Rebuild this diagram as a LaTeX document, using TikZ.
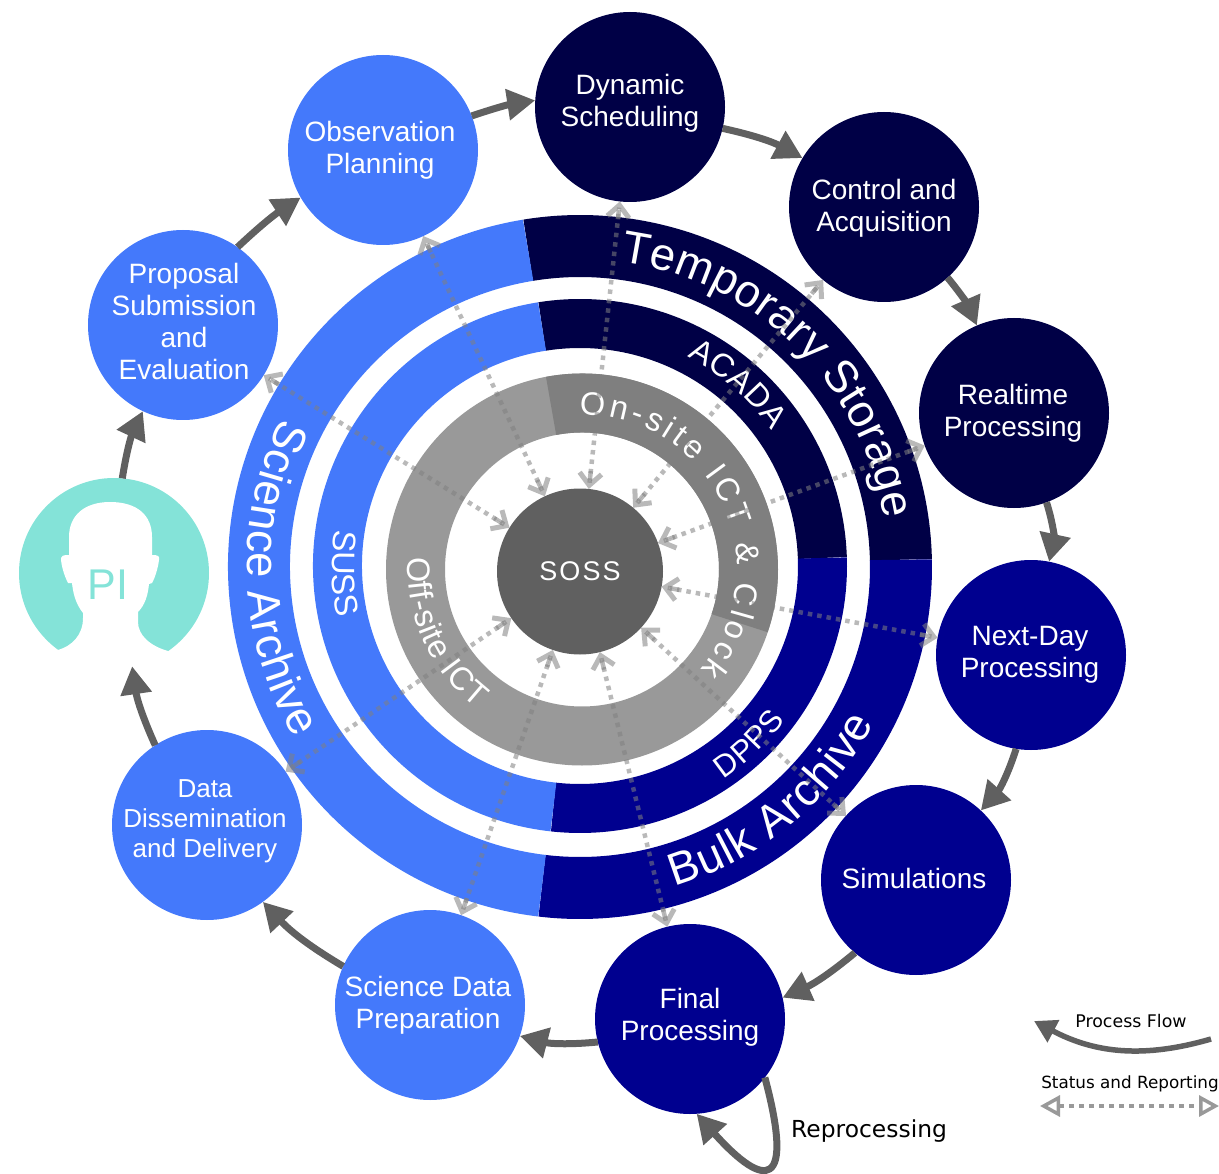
\documentclass[tikz,border=0pt]{standalone}
\usepackage{fontspec}
\setmainfont{Liberation Sans}
\newfontfamily\legendfont{DejaVu Sans}
\usetikzlibrary{arrows.meta,decorations.text}

\definecolor{sciblue}{HTML}{4479FB}
\definecolor{tempnavy}{HTML}{000046}
\definecolor{bulkblue}{HTML}{00008F}
\definecolor{sossgray}{HTML}{606060}
\definecolor{lightgray}{HTML}{999999}
\definecolor{midgray}{HTML}{7F7F7F}
\definecolor{statusgray}{HTML}{808080}
\definecolor{piteal}{HTML}{84E3D8}

\tikzset{
    station/.style = {circle, minimum size = 190pt, inner sep = 0pt, outer sep = 0pt},
    stationtext/.style = {text = white, align = center, inner sep = 0pt, font = \fontsize{28}{32}\selectfont},
    flow/.style = {draw = sossgray, line width = 7pt, -{Triangle[length = 28pt, width = 30pt]}},
    status/.style = {draw = statusgray, draw opacity = 0.55, line width = 4.5pt, dash pattern = on 4.5pt off 5pt,
        {Straight Barb[length = 12pt, width = 22pt, line width = 5pt] Rectangle[length = 14pt, width = 4.5pt, sep = -12pt]}-{Rectangle[length = 14pt, width = 4.5pt, sep = -12pt] Straight Barb[length = 12pt, width = 22pt, line width = 5pt]}},
    ringtext/.style = {decorate, decoration = {text along path, text color = white, text align = {fit to path}, text = {#1}}},
}
\newcommand{\bigring}{\fontsize{45.5}{46}\selectfont}
\newcommand{\smallring}{\fontsize{32.5}{33}\selectfont}

\begin{document}
\begin{tikzpicture}[x = 1pt, y = 1pt]
    \useasboundingbox (0, 0) rectangle (1219, -1174);

    % Outer ring: storage
    \draw [line width = 62pt, tempnavy] (580, -567) ++(99.3:321) arc [start angle = 99.3, end angle = 1.3, radius = 321];
    \draw [line width = 62pt, bulkblue] (580, -567) ++(1.3:321) arc [start angle = 1.3, end angle = -96.8, radius = 321];
    \draw [line width = 62pt, sciblue] (580, -567) ++(99.3:321) arc [start angle = 99.3, end angle = 263.2, radius = 321];

    % Middle ring: pipelines
    \draw [line width = 49pt, tempnavy] (580, -566) ++(99:242.5) arc [start angle = 99, end angle = 1.9, radius = 242.5];
    \draw [line width = 49pt, bulkblue] (580, -566) ++(1.9:242.5) arc [start angle = 1.9, end angle = -96.3, radius = 242.5];
    \draw [line width = 49pt, sciblue] (580, -566) ++(99:242.5) arc [start angle = 99, end angle = 263.7, radius = 242.5];

    % Inner ring: ICT
    \draw [line width = 59pt, lightgray] (582, -569.5) circle [radius = 166.5];
    \draw [line width = 59pt, midgray] (582, -569.5) ++(100.7:166.5) arc [start angle = 100.7, end angle = -18.8, radius = 166.5];

    % Ring names
    \path [ringtext = {|\bigring|Temporary Storage}] (580, -567) ++(82.5:308) arc [start angle = 82.5, end angle = 9, radius = 308];
    \path [ringtext = {|\bigring|Bulk Archive}] (580, -567) ++(-73.5:333) arc [start angle = -73.5, end angle = -28, radius = 333];
    \path [ringtext = {|\bigring|Science Archive}] (580, -567) ++(153.4:333) arc [start angle = 153.4, end angle = 211, radius = 333];
    \path [ringtext = {|\smallring|ACADA}] (580, -566) ++(62.8:235) arc [start angle = 62.8, end angle = 35.2, radius = 235];
    \path [ringtext = {|\fontsize{31}{32}\selectfont|DPPS}] (580, -566) ++(-56:257) arc [start angle = -56, end angle = -37, radius = 257];
    \path [ringtext = {|\smallring|SUSS}] (580, -566) ++(171.6:248) arc [start angle = 171.6, end angle = 192, radius = 248];
    \path [ringtext = {|\smallring|On-site ICT {\&} Clock}, decoration = {text align = {left}}] (582, -569.5) ++(91:155) arc [start angle = 91, end angle = -40, radius = 155];
    \path [ringtext = {|\smallring|Off-site ICT}] (582, -569.5) ++(175.9:174) arc [start angle = 175.9, end angle = 232.8, radius = 174];

    % Centre
    \node [circle, fill = sossgray, minimum size = 166pt, inner sep = 0pt, outer sep = 0pt, text = white,
        font = \fontsize{27}{27}\selectfont\addfontfeature{LetterSpace = 8}] (soss) at (580, -571.5) {SOSS};

    % Stations
    \node [station, fill = tempnavy] (sched) at (630, -107) {};
    \node [station, fill = tempnavy] (ctrl) at (884, -207) {};
    \node [station, fill = tempnavy] (real) at (1014, -413) {};
    \node [station, fill = bulkblue] (next) at (1031, -655) {};
    \node [station, fill = bulkblue] (sims) at (916, -880) {};
    \node [station, fill = bulkblue] (final) at (690, -1019) {};
    \node [station, fill = sciblue] (prep) at (430, -1005) {};
    \node [station, fill = sciblue] (dissem) at (207, -825) {};
    \node [station, fill = sciblue] (prop) at (183, -325) {};
    \node [station, fill = sciblue] (plan) at (383, -150) {};

    \node [stationtext] (schedname) at (630, -103) {Dynamic\\Scheduling};
    \node [stationtext] (ctrlname) at (884, -208) {Control and\\Acquisition};
    \node [stationtext] (realname) at (1013, -413) {Realtime\\Processing};
    \node [stationtext] (nextname) at (1030, -655) {Next-Day\\Processing};
    \node [stationtext] (simsname) at (914, -878) {Simulations};
    \node [stationtext] (finalname) at (690, -1017) {Final\\Processing};
    \node [stationtext] (prepname) at (428, -1005) {Science Data\\Preparation};
    \node [stationtext, font = \fontsize{26}{30}\selectfont] (dissemname) at (205, -821) {Data\\Dissemination\\and Delivery};
    \node [stationtext] (propname) at (184, -321) {Proposal\\Submission\\and\\Evaluation};
    \node [stationtext] (planname) at (380, -150) {Observation\\Planning};

    % PI head
    \node [station, fill = piteal] (pi) at (114, -573) {};
    \fill [white] (58, -650) .. controls (72, -646) and (83, -635) .. (83, -618) -- (83, -613)
        .. controls (75, -603) and (73, -592) .. (72, -583) -- (68, -583)
        .. controls (64, -575) and (61, -565) .. (61, -558) .. controls (61, -556) and (63, -555) .. (69, -555)
        -- (69, -537) .. controls (69, -515) and (85, -502) .. (110, -502)
        .. controls (137, -502) and (152, -515) .. (152, -537) -- (152, -555)
        .. controls (158, -555) and (160, -556) .. (159, -560) .. controls (158, -568) and (155, -578) .. (152, -583) -- (149, -584)
        .. controls (148, -595) and (145, -605) .. (138, -612) -- (138, -622)
        .. controls (138, -635) and (150, -646) .. (168, -651) -- (168, -670) -- (58, -670) -- cycle;
    \node [piteal, inner sep = 0pt, font = \fontsize{43}{43}\selectfont] (piname) at (108, -585) {PI};

    % Status and reporting
    \foreach \target in {plan, sched, ctrl, real, next, sims, final, prep, dissem, prop}
        \draw [status] (soss) -- (\target);

    % Process flow
    \draw [flow] (pi.85) to [bend left = 8] (prop.-115);
    \draw [flow] (prop.55) to [bend left = 5] (plan.210);
    \draw [flow] (plan.21) to [bend left = 5] (sched.176);
    \draw [flow] (sched.-13) to [bend left = 8] (ctrl.149);
    \draw [flow] (ctrl.-48) to [bend left = 8] (real.113);
    \draw [flow] (real.-70) to [bend left = 15] (next.79);
    \draw [flow] (next.-99) to [bend left = 12] (sims.47);
    \draw [flow] (sims.-130) to [bend left = 8] (final.13);
    \draw [flow] (final.-166) to [bend left = 10] (prep.-19);
    \draw [flow] (prep.156) to [bend left = 8] (dissem.-54);
    \draw [flow] (dissem.123) to [bend left = 8] (pi.-79);
    \draw [flow] (final.-38) .. controls (795, -1190) and (765, -1190) .. (final.-86);
    \node [anchor = west, inner sep = 0pt, font = \legendfont\fontsize{23.4}{26}\selectfont] (reproc) at (791, -1131) {Reprocessing};

    % Legend
    \coordinate (flowstart) at (1211, -1039);
    \coordinate (flowend) at (1034, -1021);
    \coordinate (statusleft) at (1040, -1106);
    \coordinate (statusright) at (1219, -1106);
    \draw [draw = sossgray, line width = 5.5pt, -{Triangle[length = 22pt, width = 24pt]}] (flowstart) to [bend left = 22] (flowend);
    \draw [draw = lightgray, line width = 4pt, dash pattern = on 5pt off 5pt,
        {Triangle[open, length = 20pt, width = 21pt, line width = 3.5pt]}-{Triangle[open, length = 20pt, width = 21pt, line width = 3.5pt]}] (statusleft) -- (statusright);
    \node [inner sep = 0pt, font = \legendfont\fontsize{17.4}{20}\selectfont] (flowname) at (1131, -1021) {Process Flow};
    \node [inner sep = 0pt, font = \legendfont\fontsize{16.8}{20}\selectfont] (statusname) at (1130, -1084) {Status and Reporting};
\end{tikzpicture}
\end{document}
